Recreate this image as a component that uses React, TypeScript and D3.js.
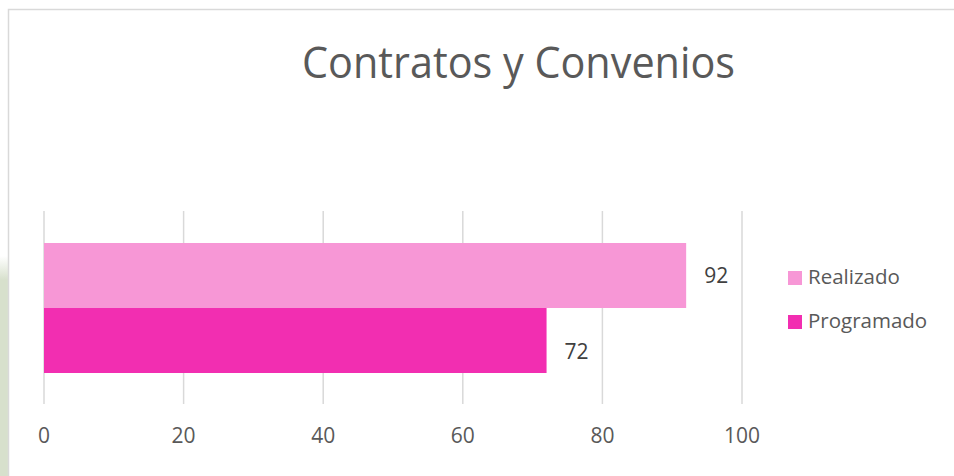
import React from "react";
import * as d3 from "d3";

const title = "Contratos y Convenios";
const seriesNames = ["Realizado", "Programado"];
const seriesValues = [92, 72];
const seriesColors = ["#f797d6", "#f22eb1"];
const tickValues = [0, 20, 40, 60, 80, 100];

const W = 954;
const H = 476;
const FONT = "'Open Sans', 'Noto Sans', sans-serif";
const TEXT = "#595959";

export default function App() {
  const x = d3.scaleLinear().domain([0, 100]).range([44, 742]);
  const y = d3.scaleBand<string>().domain(seriesNames).range([243, 373]).padding(0);
  const legendY = d3.scalePoint<string>().domain(seriesNames).range([278, 322]);
  const labelShift = [0, 11];

  return (
    <svg
      width={W}
      height={H}
      style={{ position: "absolute", left: 0, top: 0, background: "#fff" }}
    >
      <rect x={0} y={0} width={W} height={H} fill="#fff" />
      <defs>
        <linearGradient id="gfade" x1="0" y1="0" x2="0" y2="1">
          <stop offset="0" stopColor="#d7e0cc" stopOpacity={0} />
          <stop offset="1" stopColor="#d7e0cc" stopOpacity={1} />
        </linearGradient>
      </defs>
      <rect x={0} y={256} width={8} height={24} fill="url(#gfade)" />
      <rect x={0} y={280} width={8} height={H - 280} fill="#d7e0cc" />
      <path d={`M8.5,${H} V9.5 H${W}`} fill="none" stroke="#d9d9d9" strokeWidth={1.5} />

      <text
        x={518.5}
        y={78}
        textAnchor="middle"
        fontFamily={FONT}
        fontSize={43}
        fill={TEXT}
        textLength={433}
        lengthAdjust="spacingAndGlyphs"
      >
        {title}
      </text>

      {tickValues.map((t) => (
        <line
          key={"g" + t}
          x1={x(t)}
          x2={x(t)}
          y1={211}
          y2={404}
          stroke="#d9d9d9"
          strokeWidth={1.5}
        />
      ))}

      {seriesNames.map((s, i) => (
        <rect
          key={"b" + s}
          x={x(0)}
          y={y(s)!}
          width={x(seriesValues[i]) - x(0)}
          height={y.bandwidth()}
          fill={seriesColors[i]}
        />
      ))}

      {seriesNames.map((s, i) => (
        <text
          key={"l" + s}
          x={x(seriesValues[i]) + 18}
          y={y(s)! + y.bandwidth() / 2 + labelShift[i]}
          dy="0.36em"
          fontFamily={FONT}
          fontSize={21}
          fill="#404040"
        >
          {seriesValues[i]}
        </text>
      ))}

      {tickValues.map((t) => (
        <text
          key={"t" + t}
          x={x(t)}
          y={443}
          textAnchor="middle"
          fontFamily={FONT}
          fontSize={21}
          fill={TEXT}
        >
          {t}
        </text>
      ))}

      {seriesNames.map((s, i) => (
        <g key={"lg" + s}>
          <rect
            x={788}
            y={legendY(s)! - 7}
            width={14}
            height={14}
            fill={seriesColors[i]}
          />
          <text
            x={808}
            y={legendY(s)! + 6}
            fontFamily={FONT}
            fontSize={20.5}
            fill={TEXT}
          >
            {s}
          </text>
        </g>
      ))}
    </svg>
  );
}
